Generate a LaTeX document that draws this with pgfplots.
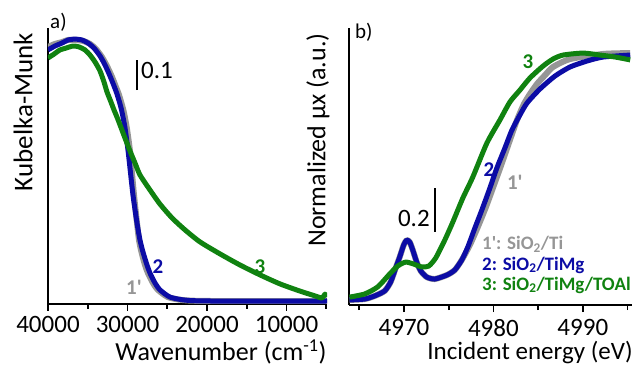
\documentclass[border=0pt]{standalone}
\usepackage{pgfplots}
\pgfplotsset{compat=1.18}
\usepackage{fontspec}
\setmainfont{Carlito}
\definecolor{cblue}{RGB}{12,12,165}
\definecolor{cgreen}{RGB}{16,130,16}
\definecolor{cgray}{RGB}{150,150,150}
\pgfplotsset{
  myaxis/.style={
    scale only axis,
    anchor=south west,
    axis x line*=bottom,
    axis y line*=left,
    axis line style={line width=1.8pt},
    ytick=\empty,
    tick align=outside,
    major tick length=7pt,
    minor tick length=5pt,
    tick style={line width=1.8pt, black},
    clip mode=individual,
    /pgf/number format/assume math mode=true,
    /pgf/number format/set thousands separator={},
    scaled x ticks=false,
    xticklabel style={font=\fontsize{25}{30}\selectfont},
  },
  cb/.style={cblue, line width=5pt, line join=round, smooth, tension=0.4},
  cg/.style={cgreen, line width=5pt, line join=round, smooth, tension=0.4},
  cgr/.style={cgray, line width=6pt, line join=round, smooth, tension=0.4},
}
\begin{document}
\begin{tikzpicture}
% ---------------- panel a ----------------
\begin{axis}[myaxis, at={(48pt,65pt)}, width=279pt, height=276pt,
  x dir=reverse, xmin=4906, xmax=40000, ymin=0, ymax=0.92,
  xtick={10000,20000,30000,40000}, minor xtick={5000,15000,25000,35000},
  xticklabel style={yshift=-2pt}]
\addplot[cgr] coordinates {
(40000,0.857)(39119,0.867)(38239,0.873)(37484,0.880)(36478,0.880)(35597,0.877)
(34717,0.867)(33962,0.850)(33208,0.823)(32579,0.793)(31950,0.757)(31447,0.723)
(31069,0.697)(30692,0.663)(30440,0.637)(30063,0.583)(29686,0.510)(29497,0.453)
(29182,0.363)(28805,0.270)(28553,0.213)(28239,0.173)(27799,0.130)(27421,0.103)
(26792,0.070)(26163,0.047)(24905,0.023)(23018,0.013)(19622,0.010)(4906,0.010)};
\addplot[cb] coordinates {
(40000,0.847)(39119,0.860)(38239,0.870)(37484,0.880)(36604,0.883)(35723,0.880)
(34968,0.870)(34214,0.853)(33459,0.827)(32830,0.797)(32201,0.760)(31698,0.727)
(31321,0.700)(30943,0.667)(30692,0.640)(30314,0.587)(29937,0.513)(29686,0.453)
(29308,0.363)(28805,0.270)(28428,0.213)(28050,0.173)(27547,0.130)(27170,0.103)
(26541,0.070)(25912,0.047)(24654,0.023)(22767,0.013)(19622,0.010)(4906,0.010)};
\addplot[cg] coordinates {
(40000,0.820)(39245,0.833)(38491,0.847)(37736,0.853)(36855,0.860)(36101,0.857)
(35346,0.847)(34717,0.830)(34088,0.807)(33459,0.777)(32956,0.740)(32579,0.707)
(32075,0.673)(31698,0.647)(31321,0.623)(30943,0.597)(30314,0.553)(29686,0.510)
(29057,0.470)(28428,0.430)(27170,0.380)(25912,0.333)(24402,0.287)(22767,0.247)
(20881,0.207)(18364,0.167)(15849,0.130)(13333,0.097)(10817,0.067)(8302,0.043)
(6414,0.027)(5534,0.020)(5157,0.033)(4906,0.023)};
\draw[line width=1.8pt] (axis cs:28805,0.713) -- (axis cs:28805,0.813);
\node[anchor=west, inner sep=0pt, font=\fontsize{25}{30}\selectfont] at (axis cs:28300,0.78) {0.1};
\node[cgray, font=\fontsize{21}{25}\bfseries] at (axis cs:29182,0.057) {1\textquotesingle};
\node[cblue, font=\fontsize{21}{25}\bfseries] at (axis cs:26164,0.123) {2};
\node[cgreen, font=\fontsize{21}{25}\bfseries] at (axis cs:13333,0.123) {3};
\end{axis}
% ---------------- panel b ----------------
\begin{axis}[myaxis, at={(349pt,64pt)}, width=283pt, height=277pt,
  xmin=4963.85, xmax=4995.5, ymin=0, ymax=1.259,
  xtick={4970,4980,4990}, minor xtick={4965,4975,4985,4995},
  xticklabel style={yshift=-4pt}]
\addplot[cgr] coordinates {
(4963.91,0.023)(4965.59,0.027)(4966.71,0.041)(4967.84,0.064)(4968.51,0.105)
(4969.07,0.168)(4969.52,0.218)(4969.97,0.273)(4970.30,0.295)(4970.64,0.286)
(4970.98,0.250)(4971.42,0.195)(4971.87,0.155)(4972.54,0.127)(4973.44,0.118)
(4974.79,0.136)(4975.68,0.159)(4976.47,0.205)
(4977.37,0.273)(4978.26,0.355)(4979.16,0.445)(4980.06,0.545)(4980.95,0.645)
(4981.85,0.750)(4982.64,0.841)(4983.42,0.914)(4984.09,0.959)(4984.88,1.005)
(4985.78,1.045)(4986.67,1.082)(4988.58,1.118)(4992.28,1.141)(4995.30,1.145)};
\addplot[cb] coordinates {
(4963.91,0.023)(4965.59,0.027)(4966.71,0.041)(4967.84,0.064)(4968.51,0.105)
(4969.07,0.168)(4969.52,0.218)(4969.97,0.273)(4970.30,0.295)(4970.64,0.286)
(4970.98,0.250)(4971.42,0.195)(4971.87,0.155)(4972.54,0.127)(4973.44,0.118)
(4974.79,0.136)(4975.68,0.159)(4976.47,0.205)
(4977.14,0.264)(4977.93,0.350)(4978.71,0.432)(4979.61,0.532)(4980.39,0.623)
(4981.29,0.714)(4982.07,0.795)(4982.97,0.864)(4983.76,0.918)(4985.21,0.982)
(4986.90,1.041)(4988.58,1.082)(4990.48,1.109)(4992.28,1.127)(4995.30,1.136)};
\addplot[cg] coordinates {
(4963.91,0.036)(4965.59,0.050)(4967.05,0.082)(4968.40,0.141)(4969.29,0.177)
(4970.19,0.195)(4971.09,0.186)(4971.98,0.173)(4972.77,0.177)(4973.55,0.214)
(4974.56,0.295)(4975.46,0.377)(4976.58,0.486)(4977.70,0.582)(4979.27,0.736)
(4980.73,0.841)(4981.85,0.923)(4982.97,0.977)(4984.09,1.032)(4985.55,1.086)
(4986.67,1.118)(4987.79,1.136)(4990.03,1.145)(4991.94,1.136)(4993.62,1.127)
(4995.30,1.114)};
\draw[line width=1.8pt] (axis cs:4973.43,0.332) -- (axis cs:4973.43,0.532);
\node[anchor=east, inner sep=0pt, font=\fontsize{25}{30}\selectfont] at (axis cs:4972.9,0.395) {0.2};
\node[cgray, font=\fontsize{21}{25}\bfseries] at (axis cs:4982.4,0.559) {1\textquotesingle};
\node[cblue, font=\fontsize{21}{25}\bfseries] at (axis cs:4979.5,0.614) {2};
\node[cgreen, font=\fontsize{21}{25}\bfseries] at (axis cs:4983.87,1.105) {3};
\node[cgray, anchor=base west, inner sep=0pt, font=\fontsize{19}{23}\bfseries] at (axis cs:4978.72,0.25) {1\textquotesingle: SiO\textsubscript{2}/Ti};
\node[cblue, anchor=base west, inner sep=0pt, font=\fontsize{19}{23}\bfseries] at (axis cs:4978.72,0.159) {2: SiO\textsubscript{2}/TiMg};
\node[cgreen, anchor=base west, inner sep=0pt, font=\fontsize{19}{23}\bfseries] at (axis cs:4978.72,0.068) {3: SiO\textsubscript{2}/TiMg/TOAl};
\end{axis}
% ---------------- labels ----------------
\node[rotate=90, inner sep=0pt, font=\fontsize{27}{32}\selectfont] at (23pt,257pt) {Kubelka-Munk};
\node[rotate=90, inner sep=0pt, font=\fontsize{26}{31}\selectfont] at (318pt,229pt) {Normalized μx (a.u.)};
\node[anchor=base, inner sep=0pt, font=\fontsize{26}{31}\selectfont] at (221pt,8pt) {Wavenumber (cm\textsuperscript{-1})};
\node[anchor=base, inner sep=0pt, font=\fontsize{25}{30}\selectfont] at (530pt,9pt) {Incident energy (eV)};
\node[anchor=base west, inner sep=0pt, font=\fontsize{21}{25}\selectfont] at (50pt,340pt) {a)};
\node[anchor=base west, inner sep=0pt, font=\fontsize{21}{25}\selectfont] at (355pt,330pt) {b)};
\pgfresetboundingbox
\useasboundingbox (0pt,0pt) rectangle (637pt,369pt);
\end{tikzpicture}
\end{document}
